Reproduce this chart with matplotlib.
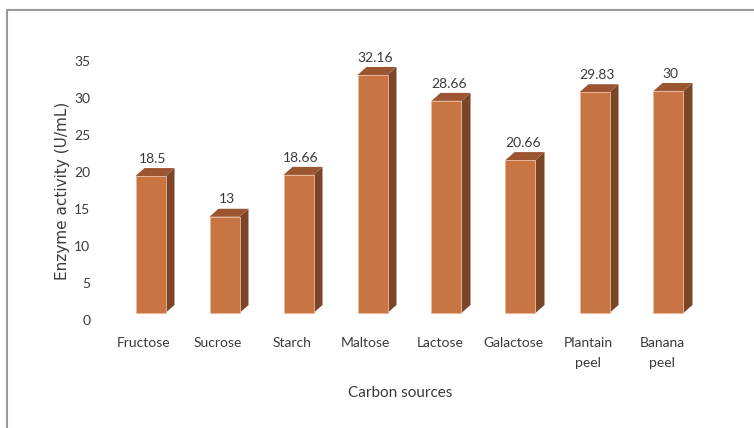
import matplotlib
matplotlib.use("Agg")
import matplotlib.pyplot as plt
from matplotlib.patches import Polygon, Rectangle

categories = ["Fructose", "Sucrose", "Starch", "Maltose", "Lactose", "Galactose", "Plantain\npeel", "Banana\npeel"]
values = [18.5, 13, 18.66, 32.16, 28.66, 20.66, 29.83, 30]
value_labels = ["18.5", "13", "18.66", "32.16", "28.66", "20.66", "29.83", "30"]
yticks = [0, 5, 10, 15, 20, 25, 30, 35]

W, H = 754, 428
fig = plt.figure(figsize=(W / 100, H / 100), dpi=100)
fig.patch.set_facecolor("white")

FONT = ["Lato", "DejaVu Sans"]
TXT = "#3A3A3A"

px_per_cat = 74.0
x0px = 150.5
left_px, right_px = 100, 725
ax = fig.add_axes([left_px / W, (H - 320) / H, (right_px - left_px) / W, (320 - 61) / H])
ax.set_xlim((left_px - x0px) / px_per_cat, (right_px - x0px) / px_per_cat)
ax.set_ylim(0, 35)

front = "#C87443"
top_c = "#9C5531"
side_c = "#7B4527"
edge = "#E9B79A"

bw = 30 / px_per_cat
dx = 9 / px_per_cat
dy = 8 / 7.4
base = 0.95

for i, v in enumerate(values):
    xl = i - bw / 2
    xr = i + bw / 2
    yt = base + v
    ax.add_patch(Polygon([(xr, base), (xr + dx, base + dy), (xr + dx, yt + dy), (xr, yt)],
                         closed=True, facecolor=side_c, edgecolor="none", clip_on=False))
    ax.add_patch(Polygon([(xl, yt), (xr, yt), (xr + dx, yt + dy), (xl + dx, yt + dy)],
                         closed=True, facecolor=top_c, edgecolor="none", clip_on=False))
    ax.add_patch(Rectangle((xl, base), bw, v, facecolor=front, edgecolor=edge, linewidth=0.6, clip_on=False))
    ax.text(i + 0.03, yt + dy + 0.45, value_labels[i], ha="center", va="bottom",
            fontsize=10, color=TXT, family=FONT)

ax.set_yticks(yticks)
ax.set_yticklabels([str(t) for t in yticks], family=FONT, fontsize=10, color=TXT)
ax.set_xticks([i - 0.09 for i in range(len(categories))])
ax.set_xticklabels(categories, family=FONT, fontsize=10, color=TXT, linespacing=1.75)
ax.tick_params(axis="both", length=0)
ax.tick_params(axis="y", pad=7)
ax.tick_params(axis="x", pad=12.5)
for s in ax.spines.values():
    s.set_visible(False)
ax.patch.set_alpha(0)

ax.set_ylabel("Enzyme activity (U/mL)", family="DejaVu Sans", fontsize=11, color=TXT, labelpad=3)
fig.text(400 / W, 1 - 393 / H, "Carbon sources", ha="center", va="center",
         family=FONT, fontsize=11, color=TXT)

fig.patches.append(Rectangle((7 / W, -0.1), 1.2, 1.1 - 10 / H, transform=fig.transFigure,
                             facecolor="none", edgecolor="#9A9A9A", linewidth=1.5))

fig.savefig("out.png", dpi=100)
